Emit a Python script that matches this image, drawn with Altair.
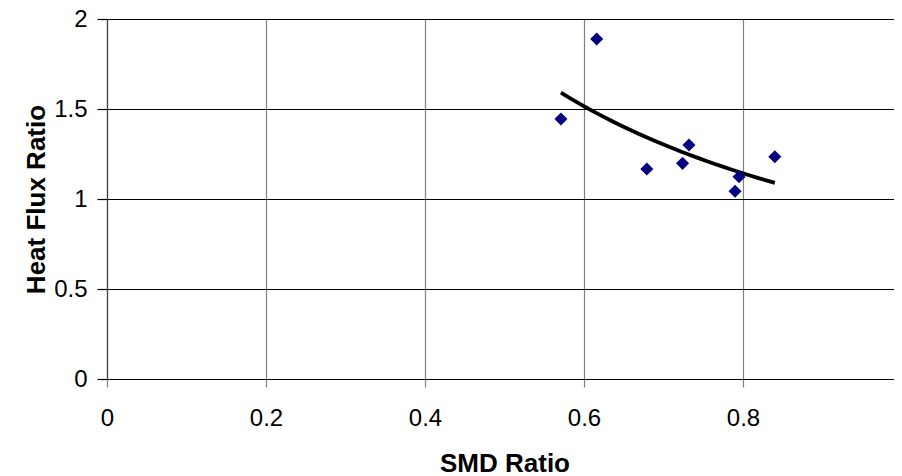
import altair as alt
import pandas as pd

smd_ratio = [0.571, 0.616, 0.679, 0.724, 0.732, 0.795, 0.790, 0.840]
heat_flux_ratio = [1.444, 1.889, 1.167, 1.198, 1.300, 1.124, 1.043, 1.235]
x_ticks = [0, 0.2, 0.4, 0.6, 0.8, 1]
y_ticks = [0, 0.5, 1, 1.5, 2]

df = pd.DataFrame({"smd": smd_ratio, "hf": heat_flux_ratio})

FONT = "Liberation Sans"

x_enc = alt.X(
    "smd:Q",
    scale=alt.Scale(domain=[0, 1], nice=False, zero=False),
    axis=alt.Axis(
        title="SMD Ratio", values=x_ticks, format="~g",
        grid=True, gridColor="#808080", gridWidth=1.2, gridOpacity=1,
        domainColor="#000000", domainWidth=1.2,
        tickColor="#808080", tickSize=8, tickWidth=1.2,
        labelFont=FONT, labelFontSize=24, labelColor="#000000", labelPadding=19,
        titleFont=FONT, titleFontSize=26, titleFontWeight="bold", titleColor="#000000",
        titlePadding=20, labelFlush=False,
    ),
)
y_enc = alt.Y(
    "hf:Q",
    scale=alt.Scale(domain=[0, 2], nice=False, zero=False),
    axis=alt.Axis(
        title="Heat Flux Ratio", values=y_ticks, format="~g",
        grid=True, gridColor="#000000", gridWidth=1, gridOpacity=1,
        domainColor="#404040", domainWidth=1.2,
        tickColor="#000000", tickSize=10, tickWidth=1.2,
        labelFont=FONT, labelFontSize=24, labelColor="#000000", labelPadding=10,
        titleFont=FONT, titleFontSize=26, titleFontWeight="bold", titleColor="#000000",
        titlePadding=4, labelFlush=False,
    ),
)

points = alt.Chart(df).mark_point(
    shape="diamond", filled=True, color="#000080", size=170, opacity=1
).encode(x=x_enc, y=y_enc)

trend = alt.Chart(df).transform_regression(
    "smd", "hf", method="pow"
).mark_line(color="#000000", strokeWidth=3.8).encode(
    x="smd:Q", y="hf:Q"
)

chart = alt.layer(trend, points).properties(
    width=795, height=360,
    autosize=alt.AutoSizeParams(type="none"),
    padding={"left": 99, "top": 11, "right": -8, "bottom": 97},
).configure_view(stroke="#808080", strokeWidth=1.5).configure(background="#ffffff")

chart.save("out.html", embed_options={"renderer": "svg", "actions": False})
